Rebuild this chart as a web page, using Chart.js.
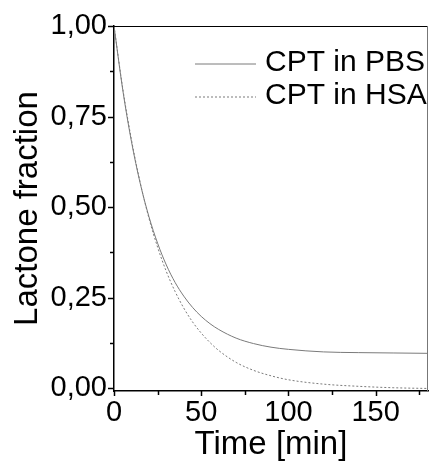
<!DOCTYPE html>
<html>
<head>
<meta charset="utf-8">
<script src="https://cdn.jsdelivr.net/npm/chart.js@4/dist/chart.umd.min.js"></script>
<style>
  html, body { margin: 0; padding: 0; background: #fff; }
  #wrap { width: 429px; height: 461px; }
</style>
</head>
<body>
<div id="wrap"><canvas id="chart" width="429" height="461"></canvas></div>
<script>
// time points (min) and lactone fraction
var times = [0, 5, 10, 15, 20, 25, 30, 35, 40, 45, 50, 55, 60, 70, 80, 90, 100, 120, 140, 160, 180];
var pbs = [1.000, 0.824, 0.681, 0.566, 0.474, 0.400, 0.340, 0.292, 0.254, 0.223, 0.198, 0.178, 0.162, 0.138, 0.123, 0.113, 0.107, 0.100, 0.098, 0.097, 0.096];
var hsa = [1.000, 0.828, 0.686, 0.568, 0.470, 0.389, 0.322, 0.267, 0.221, 0.183, 0.152, 0.126, 0.104, 0.071, 0.049, 0.034, 0.023, 0.011, 0.005, 0.001, -0.001];

var seriesNames = ['CPT in PBS', 'CPT in HSA'];

var yTickValues = [0, 0.125, 0.25, 0.375, 0.5, 0.625, 0.75, 0.875, 1];
var yTickLabels = ['0,00', '', '0,25', '', '0,50', '', '0,75', '', '1,00'];
var xTickValues = [0, 25, 50, 75, 100, 125, 150, 175];
var xTickLabels = ['0', '', '50', '', '100', '', '150', ''];

var FONT = '"Liberation Sans", Arial, sans-serif';

function toPoints(ys) {
    return times.map(function(t, i) { return { x: t, y: ys[i] }; });
}

// box, ticks and inset legend
var framePlugin = {
    id: 'frame',
    afterDraw: function(chart) {
        var ctx = chart.ctx;
        var a = chart.chartArea;
        var xs = chart.scales.x, ys = chart.scales.y;
        ctx.save();
        ctx.strokeStyle = '#000';
        ctx.lineWidth = 1.5;
        // ticks (major 6px, minor 4px)
        yTickValues.forEach(function(v, i) {
            var py = Math.round(ys.getPixelForValue(v)) + 0.5;
            var len = yTickLabels[i] ? 6 : 4;
            ctx.beginPath(); ctx.moveTo(a.left - len, py); ctx.lineTo(a.left, py); ctx.stroke();
        });
        xTickValues.forEach(function(v, i) {
            var px = Math.round(xs.getPixelForValue(v)) + 0.5;
            var len = xTickLabels[i] ? 5 : 4;
            ctx.beginPath(); ctx.moveTo(px, a.bottom); ctx.lineTo(px, a.bottom + len); ctx.stroke();
        });
        // top and right frame
        ctx.lineWidth = 1.2;
        ctx.beginPath(); ctx.moveTo(a.left, a.top + 0.5); ctx.lineTo(a.right, a.top + 0.5); ctx.stroke();
        ctx.strokeStyle = '#777';
        ctx.lineWidth = 1;
        ctx.beginPath(); ctx.moveTo(a.right - 0.5, a.top); ctx.lineTo(a.right - 0.5, a.bottom); ctx.stroke();

        // legend
        ctx.font = '30px ' + FONT;
        ctx.textBaseline = 'middle';
        ctx.textAlign = 'left';
        chart.data.datasets.forEach(function(ds, i) {
            var y = a.top + 37.5 + i * 33;
            ctx.strokeStyle = ds.borderColor;
            ctx.lineWidth = ds.borderWidth;
            ctx.setLineDash(ds.borderDash || []);
            ctx.beginPath(); ctx.moveTo(a.left + 81, y + 0.5); ctx.lineTo(a.left + 142, y + 0.5); ctx.stroke();
            ctx.setLineDash([]);
            ctx.fillStyle = '#000';
            ctx.fillText(ds.label, a.left + 151, y - 1);
        });
        ctx.restore();
    }
};

var ctx = document.getElementById('chart').getContext('2d');
new Chart(ctx, {
    type: 'line',
    data: {
        datasets: [
            {
                label: seriesNames[0],
                data: toPoints(pbs),
                borderColor: '#7a7a7a',
                borderWidth: 1,
                pointRadius: 0,
                cubicInterpolationMode: 'monotone',
                fill: false
            },
            {
                label: seriesNames[1],
                data: toPoints(hsa),
                borderColor: '#7a7a7a',
                borderWidth: 1,
                borderDash: [2, 2],
                pointRadius: 0,
                cubicInterpolationMode: 'monotone',
                fill: false
            }
        ]
    },
    options: {
        responsive: false,
        animation: false,
        events: [],
        layout: { padding: { top: 26, right: 1, left: 0, bottom: 0 } },
        plugins: {
            legend: { display: false },
            tooltip: { enabled: false }
        },
        scales: {
            x: {
                type: 'linear',
                min: 0,
                max: 180,
                afterBuildTicks: function(scale) {
                    scale.ticks = xTickValues.map(function(v) { return { value: v }; });
                },
                afterFit: function(scale) { scale.height = 70; },
                grid: { drawOnChartArea: false, drawTicks: true, tickLength: 6, tickColor: 'rgba(0,0,0,0)' },
                border: { color: '#000', width: 1.5 },
                ticks: {
                    autoSkip: false,
                    maxRotation: 0,
                    padding: 1,
                    color: '#000',
                    font: { family: FONT, size: 29, lineHeight: 1 },
                    callback: function(value, index) { return xTickLabels[index]; }
                },
                title: {
                    display: true,
                    text: 'Time [min]',
                    color: '#000',
                    font: { family: FONT, size: 33, lineHeight: 1 },
                    padding: { top: 0, bottom: 0 }
                }
            },
            y: {
                type: 'linear',
                min: -0.008,
                max: 1.0,
                afterBuildTicks: function(scale) {
                    scale.ticks = yTickValues.map(function(v) { return { value: v }; });
                },
                afterFit: function(scale) { scale.width = 114; },
                grid: { drawOnChartArea: false, drawTicks: true, tickLength: 6, tickColor: 'rgba(0,0,0,0)' },
                border: { color: '#000', width: 1.5 },
                ticks: {
                    autoSkip: false,
                    padding: 1,
                    color: '#000',
                    font: { family: FONT, size: 29, lineHeight: 1 },
                    callback: function(value, index) { return yTickLabels[index]; }
                },
                title: {
                    display: true,
                    text: 'Lactone fraction',
                    color: '#000',
                    font: { family: FONT, size: 33, lineHeight: 1 },
                    padding: { top: 11, bottom: 0 }
                }
            }
        }
    },
    plugins: [framePlugin]
});
</script>
</body>
</html>
